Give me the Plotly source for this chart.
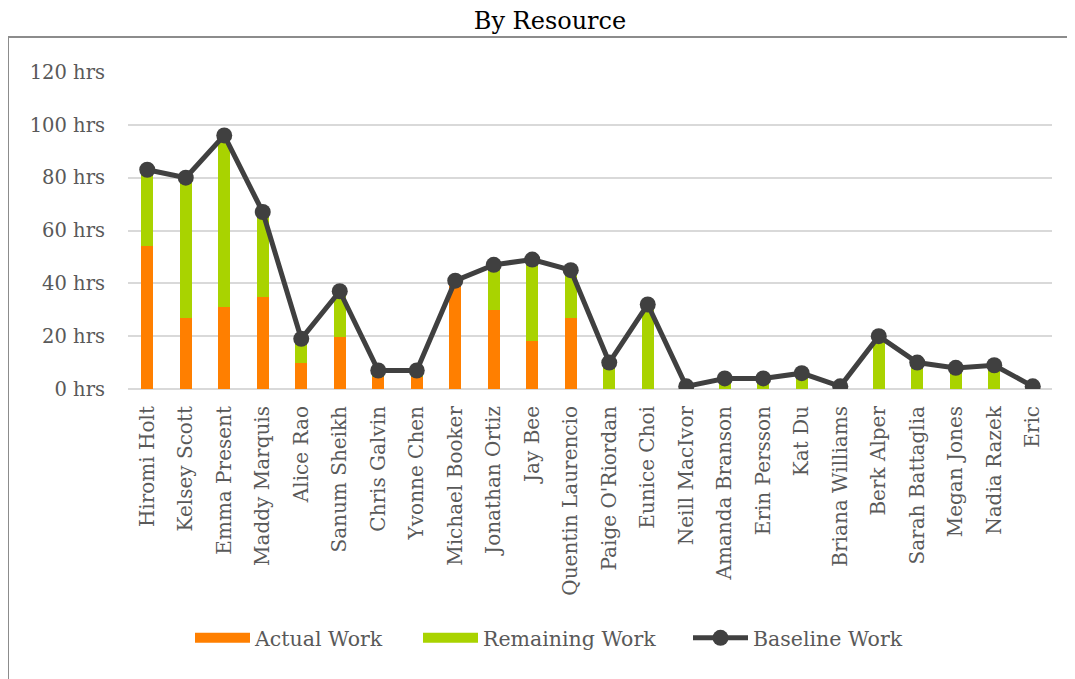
import plotly.graph_objects as go

resources = ["Hiromi Holt", "Kelsey Scott", "Emma Present", "Maddy Marquis", "Alice Rao",
             "Sanum Sheikh", "Chris Galvin", "Yvonne Chen", "Michael Booker", "Jonathan Ortiz",
             "Jay Bee", "Quentin Laurencio", "Paige O'Riordan", "Eunice Choi", "Neill MacIvor",
             "Amanda Branson", "Erin Persson", "Kat Du", "Briana Williams", "Berk Alper",
             "Sarah Battaglia", "Megan Jones", "Nadia Razek", "Eric"]
actual_work = [54, 27, 31, 35, 10, 19.5, 4.5, 4.5, 40, 30, 18, 27, 0, 0, 0,
               0, 0, 0, 0, 0, 0, 0, 0, 0]
remaining_work = [28, 53, 63, 31, 8, 16.5, 1.5, 1.5, 0, 16, 30, 17, 9, 31, 0,
                  3, 3, 5, 0, 19, 9, 7, 8, 0]
baseline_work = [83, 80, 96, 67, 19, 37, 7, 7, 41, 47, 49, 45, 10, 32, 1,
                 4, 4, 6, 1, 20, 10, 8, 9, 1]
y_ticks = [0, 20, 40, 60, 80, 100, 120]
y_tick_labels = [f"{v} hrs" for v in y_ticks]

FONT = "DejaVu Serif"
TXT = "#595959"
ORANGE = "#FF7F00"
GREEN = "#A9D300"
DARK = "#404040"

# page body has an 8px margin; figure coords = screen coords - 8
OFF = 8
W, H = 1075 - OFF, 679 - OFF
PL, PR, PT, PB = 128 - OFF, 1052 - OFF, 72 - OFF, 389 - OFF
pw, ph = PR - PL, PB - PT


def px(sx):
    return (sx - OFF - PL) / pw


def py(sy):
    return (PB - (sy - OFF)) / ph


fig = go.Figure()
fig.add_trace(go.Bar(x=resources, y=actual_work, name="Actual Work", showlegend=False,
                     marker=dict(color=ORANGE, line=dict(width=0))))
fig.add_trace(go.Bar(x=resources, y=remaining_work, name="Remaining Work", showlegend=False,
                     marker=dict(color=GREEN, line=dict(width=0))))
fig.add_trace(go.Scatter(x=resources, y=baseline_work, name="Baseline Work",
                         mode="lines+markers", legend="legend3",
                         line=dict(color=DARK, width=5),
                         marker=dict(color=DARK, size=16)))
# legend swatches for the bar series
fig.add_trace(go.Scatter(x=[None], y=[None], name="Actual Work", mode="lines",
                         legend="legend", line=dict(color=ORANGE, width=12)))
fig.add_trace(go.Scatter(x=[None], y=[None], name="Remaining Work", mode="lines",
                         legend="legend2", line=dict(color=GREEN, width=12)))

leg_common = dict(orientation="h", yanchor="middle", xanchor="left",
                  font=dict(family=FONT, size=20.5, color=TXT),
                  bgcolor="rgba(0,0,0,0)", itemwidth=55, y=py(638))

fig.update_layout(
    width=W, height=H,
    barmode="stack", bargap=0.68,
    margin=dict(l=PL, r=W - PR, t=PT, b=H - PB, autoexpand=False),
    paper_bgcolor="white", plot_bgcolor="white",
    font=dict(family=FONT, color=TXT, size=18),
    title=dict(text="By Resource", x=px(550), xref="paper", xanchor="center",
               y=1 - (21 - OFF) / H, yanchor="middle",
               font=dict(family=FONT, size=24, color="#000000")),
    legend=dict(x=px(190), **leg_common),
    legend2=dict(x=px(418), **leg_common),
    legend3=dict(x=px(688), **leg_common),
    showlegend=True,
)
fig.update_xaxes(type="category", range=[-0.5, len(resources) - 0.5], autorange=False,
                 tickangle=-90, showgrid=False, showline=False, ticks="", automargin=False,
                 ticklabelstandoff=12,
                 tickfont=dict(family=FONT, size=20, color=TXT))
fig.update_yaxes(range=[0, 120], autorange=False, tickvals=y_ticks, ticktext=y_tick_labels,
                 showgrid=True, gridcolor="#D9D9D9", gridwidth=1.5,
                 zeroline=True, zerolinecolor="#D9D9D9", zerolinewidth=1.5,
                 showline=False, ticks="", automargin=False,
                 ticklabelstandoff=22,
                 tickfont=dict(family=FONT, size=19.5, color=TXT))

# outer chart frame (left and top edges visible)
fig.add_shape(type="rect", xref="paper", yref="paper",
              x0=px(8), x1=px(1100), y0=py(700), y1=py(37),
              line=dict(color="#8C8C8C", width=2), fillcolor="rgba(0,0,0,0)",
              layer="below")

fig.write_html("out.html")
